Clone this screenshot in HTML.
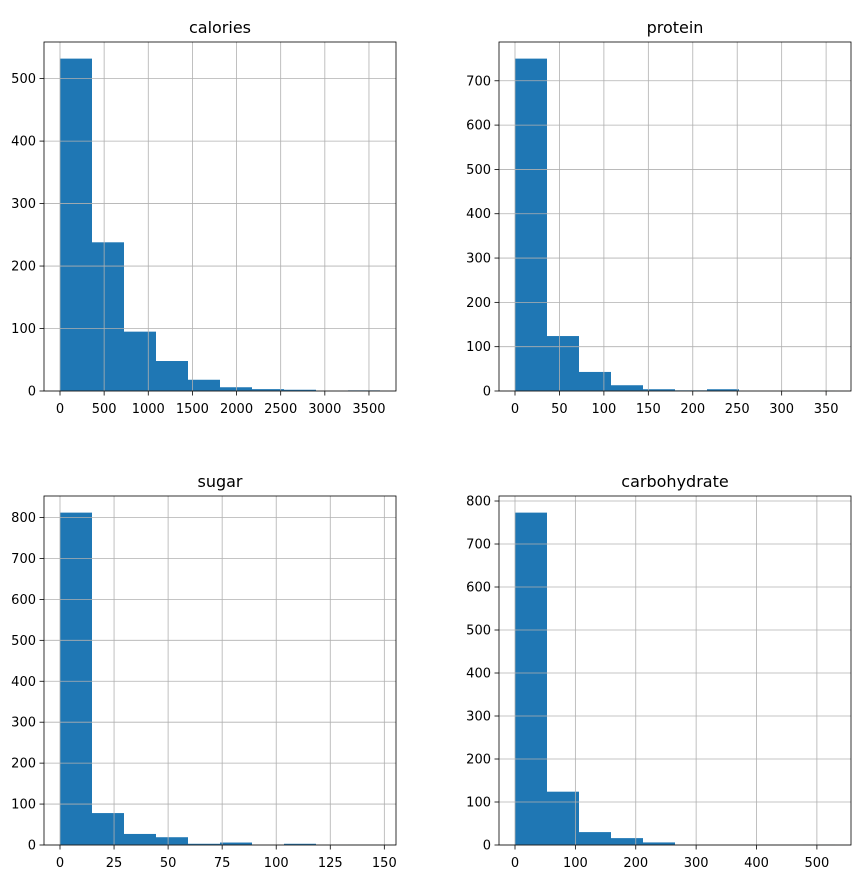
<!DOCTYPE html>
<html><head><meta charset="utf-8"><style>
html,body{margin:0;padding:0;background:#fff;}
svg text{font-family:"DejaVu Sans","Liberation Sans",sans-serif;fill:#000;}
</style></head><body>
<svg id="chart" width="861" height="878" xmlns="http://www.w3.org/2000/svg"></svg>
<script>
const caloriesCounts = [532, 238, 95, 48, 18, 6, 3, 2, 0, 1];
const caloriesRange = [0, 3625];
const caloriesXTicks = [0, 500, 1000, 1500, 2000, 2500, 3000, 3500];
const caloriesYTicks = [0, 100, 200, 300, 400, 500];

const proteinCounts = [750, 124, 43, 13, 4, 1.5, 4, 0, 0, 0.5];
const proteinRange = [0, 360];
const proteinXTicks = [0, 50, 100, 150, 200, 250, 300, 350];
const proteinYTicks = [0, 100, 200, 300, 400, 500, 600, 700];

const sugarCounts = [812, 78, 27, 19, 3, 6, 0, 3, 0, 0.5];
const sugarRange = [0, 148];
const sugarXTicks = [0, 25, 50, 75, 100, 125, 150];
const sugarYTicks = [0, 100, 200, 300, 400, 500, 600, 700, 800];

const carbCounts = [773, 124, 30, 16, 6, 0, 0, 0, 0, 0.5];
const carbRange = [0, 530];
const carbXTicks = [0, 100, 200, 300, 400, 500];
const carbYTicks = [0, 100, 200, 300, 400, 500, 600, 700, 800];

const NS = "http://www.w3.org/2000/svg";
const svg = document.getElementById('chart');
function mk(tag, attrs, parent){
  const e = document.createElementNS(NS, tag);
  for (const k in attrs) e.setAttribute(k, attrs[k]);
  (parent||svg).appendChild(e);
  return e;
}
function panel(name, title, counts, range, xt, yt, box){
  const g = mk('g', {});
  
  
  const [L, T, R, B] = box;
  const span = range[1] - range[0];
  const x0 = range[0] - span*0.05, x1 = range[1] + span*0.05;
  const ymax = Math.max(...counts) * 1.05;
  const sx = v => L + (v - x0) / (x1 - x0) * (R - L);
  const sy = v => B - v / ymax * (B - T);
  const bw = span / counts.length;
  counts.forEach((c, i) => {
    if (c <= 0) return;
    const xa = sx(range[0] + i*bw), xb = sx(range[0] + (i+1)*bw);
    const r = mk('rect', {x: xa, y: sy(c), width: xb - xa, height: B - sy(c), fill: '#1f77b4'}, g);
    
    
  });
  xt.forEach(v => {
    const x = sx(v);
    const l = mk('line', {x1: x, x2: x, y1: T, y2: B, stroke: '#b0b0b0', 'stroke-width': 0.8}, g);
    
    
    mk('line', {x1: x, x2: x, y1: B, y2: B + 4.5, stroke: '#000', 'stroke-width': 0.8}, g);
    const t = mk('text', {x: x, y: B + 22, 'font-size': 13, 'text-anchor': 'middle'}, g);
    t.textContent = v;
    
    
  });
  yt.forEach(v => {
    const y = sy(v);
    const l = mk('line', {x1: L, x2: R, y1: y, y2: y, stroke: '#b0b0b0', 'stroke-width': 0.8}, g);
    
    
    mk('line', {x1: L - 4.5, x2: L, y1: y, y2: y, stroke: '#000', 'stroke-width': 0.8}, g);
    const t = mk('text', {x: L - 8, y: y + 4.5, 'font-size': 13, 'text-anchor': 'end'}, g);
    t.textContent = v;
    
    
  });
  const fr = mk('rect', {x: L, y: T, width: R - L, height: B - T, fill: 'none', stroke: '#000', 'stroke-width': 0.8}, g);
  
  
  const tt = mk('text', {x: (L + R)/2, y: T - 9, 'font-size': 16, 'text-anchor': 'middle'}, g);
  tt.textContent = title;
  
  
}
panel('calories', 'calories', caloriesCounts, caloriesRange, caloriesXTicks, caloriesYTicks, [44, 42, 396, 391]);
panel('protein', 'protein', proteinCounts, proteinRange, proteinXTicks, proteinYTicks, [499, 42, 851, 391]);
panel('sugar', 'sugar', sugarCounts, sugarRange, sugarXTicks, sugarYTicks, [44, 496, 396, 845]);
panel('carbohydrate', 'carbohydrate', carbCounts, carbRange, carbXTicks, carbYTicks, [499, 496, 851, 845]);
</script>
</body></html>
